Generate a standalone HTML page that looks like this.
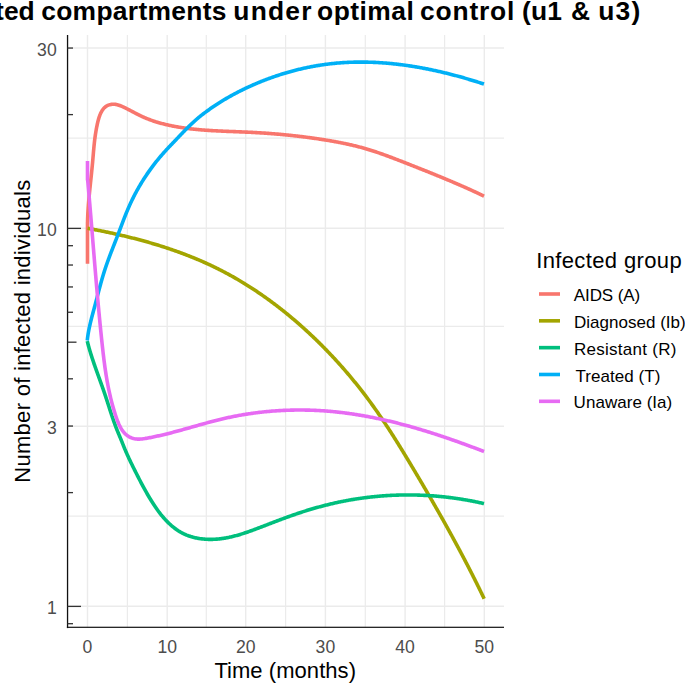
<!DOCTYPE html>
<html><head><meta charset="utf-8"><style>
html,body{margin:0;padding:0;background:#fff;}
body{width:685px;height:683px;overflow:hidden;position:relative;}
svg{position:absolute;left:0;top:0;display:block;}
text{font-family:"Liberation Sans",sans-serif;}
.ax{font-size:17.6px;fill:#4D4D4D;}
.at{font-size:22px;fill:#000;}
.ti{font-size:26.4px;font-weight:bold;fill:#000;}
.lt{font-size:22px;fill:#000;}
.ll{font-size:17px;fill:#000;}
</style></head><body>
<svg width="685" height="683" viewBox="0 0 685 683">
<line x1="127.40" y1="35.0" x2="127.40" y2="627.5" stroke="#EBEBEB" stroke-width="1.2"/>
<line x1="206.30" y1="35.0" x2="206.30" y2="627.5" stroke="#EBEBEB" stroke-width="1.2"/>
<line x1="285.60" y1="35.0" x2="285.60" y2="627.5" stroke="#EBEBEB" stroke-width="1.2"/>
<line x1="365.30" y1="35.0" x2="365.30" y2="627.5" stroke="#EBEBEB" stroke-width="1.2"/>
<line x1="444.60" y1="35.0" x2="444.60" y2="627.5" stroke="#EBEBEB" stroke-width="1.2"/>
<line x1="67.0" y1="516.15" x2="504.0" y2="516.15" stroke="#EBEBEB" stroke-width="1.2"/>
<line x1="67.0" y1="326.30" x2="504.0" y2="326.30" stroke="#EBEBEB" stroke-width="1.2"/>
<line x1="67.0" y1="138.10" x2="504.0" y2="138.10" stroke="#EBEBEB" stroke-width="1.2"/>
<line x1="87.50" y1="35.0" x2="87.50" y2="627.5" stroke="#EBEBEB" stroke-width="1.4"/>
<line x1="167.20" y1="35.0" x2="167.20" y2="627.5" stroke="#EBEBEB" stroke-width="1.4"/>
<line x1="245.70" y1="35.0" x2="245.70" y2="627.5" stroke="#EBEBEB" stroke-width="1.4"/>
<line x1="325.40" y1="35.0" x2="325.40" y2="627.5" stroke="#EBEBEB" stroke-width="1.4"/>
<line x1="405.10" y1="35.0" x2="405.10" y2="627.5" stroke="#EBEBEB" stroke-width="1.4"/>
<line x1="484.30" y1="35.0" x2="484.30" y2="627.5" stroke="#EBEBEB" stroke-width="1.4"/>
<line x1="67.0" y1="606.30" x2="504.0" y2="606.30" stroke="#EBEBEB" stroke-width="1.4"/>
<line x1="67.0" y1="426.20" x2="504.0" y2="426.20" stroke="#EBEBEB" stroke-width="1.4"/>
<line x1="67.0" y1="228.30" x2="504.0" y2="228.30" stroke="#EBEBEB" stroke-width="1.4"/>
<line x1="67.0" y1="48.00" x2="504.0" y2="48.00" stroke="#EBEBEB" stroke-width="1.4"/>
<path d="M87.50 263.70 L87.50 222.00 L87.55 221.93 L87.56 221.09 L87.58 220.25 L87.61 219.41 L87.63 218.57 L87.66 217.73 L87.70 216.89 L87.73 216.05 L87.77 215.20 L87.81 214.36 L87.85 213.51 L87.90 212.66 L87.94 211.81 L87.99 210.97 L88.05 210.12 L88.10 209.26 L88.16 208.41 L88.21 207.56 L88.28 206.71 L88.34 205.85 L88.40 205.00 L88.47 204.14 L88.54 203.28 L88.61 202.43 L88.68 201.57 L88.75 200.71 L88.82 199.86 L88.90 199.00 L88.98 198.14 L89.05 197.28 L89.13 196.42 L89.21 195.56 L89.30 194.70 L89.38 193.84 L89.46 192.98 L89.55 192.12 L89.63 191.26 L89.72 190.40 L89.81 189.54 L89.89 188.68 L89.98 187.82 L90.07 186.96 L90.16 186.10 L90.25 185.24 L90.34 184.38 L90.43 183.52 L90.52 182.66 L90.61 181.80 L90.70 180.94 L90.79 180.08 L90.89 179.23 L90.98 178.37 L91.07 177.51 L91.16 176.66 L91.25 175.80 L91.34 174.95 L91.43 174.09 L91.52 173.24 L91.60 172.39 L91.69 171.54 L91.78 170.68 L91.86 169.83 L91.95 168.99 L92.03 168.14 L92.12 167.29 L92.20 166.44 L92.28 165.60 L92.36 164.76 L92.44 163.91 L92.52 163.07 L92.60 162.23 L92.67 161.39 L92.75 160.55 L92.82 159.72 L92.89 158.88 L92.96 158.04 L93.03 157.21 L93.11 156.38 L93.18 155.54 L93.25 154.71 L93.32 153.88 L93.39 153.04 L93.46 152.21 L93.53 151.38 L93.60 150.55 L93.68 149.71 L93.75 148.88 L93.83 148.04 L93.91 147.21 L93.99 146.37 L94.07 145.54 L94.16 144.70 L94.25 143.86 L94.34 143.02 L94.43 142.18 L94.53 141.33 L94.62 140.49 L94.73 139.64 L94.83 138.80 L94.94 137.95 L95.06 137.09 L95.17 136.24 L95.30 135.38 L95.42 134.52 L95.55 133.66 L95.69 132.80 L95.83 131.93 L95.98 131.06 L96.13 130.19 L96.28 129.31 L96.45 128.43 L96.61 127.55 L96.79 126.66 L96.97 125.77 L97.16 124.88 L97.35 123.98 L97.55 123.08 L97.76 122.18 L97.98 121.29 L98.21 120.39 L98.45 119.50 L98.71 118.62 L98.97 117.75 L99.25 116.88 L99.55 116.03 L99.86 115.20 L100.19 114.38 L100.53 113.58 L100.89 112.81 L101.28 112.05 L101.68 111.32 L102.11 110.61 L102.55 109.94 L103.02 109.29 L103.52 108.67 L104.04 108.09 L104.58 107.55 L105.15 107.04 L105.75 106.57 L106.38 106.15 L107.04 105.76 L107.73 105.42 L108.44 105.13 L109.17 104.87 L109.92 104.66 L110.69 104.50 L111.47 104.37 L112.27 104.29 L113.08 104.25 L113.90 104.26 L114.72 104.31 L115.54 104.40 L116.37 104.53 L117.20 104.71 L118.02 104.92 L118.84 105.17 L119.67 105.45 L120.49 105.76 L121.30 106.09 L122.11 106.43 L122.92 106.80 L123.73 107.18 L124.53 107.56 L125.32 107.95 L126.11 108.35 L126.90 108.75 L127.68 109.14 L128.46 109.54 L129.23 109.94 L130.00 110.35 L130.77 110.75 L131.53 111.15 L132.29 111.55 L133.05 111.95 L133.81 112.35 L134.57 112.74 L135.33 113.14 L136.08 113.53 L136.84 113.92 L137.60 114.31 L138.35 114.69 L139.11 115.07 L139.87 115.44 L140.64 115.81 L141.40 116.18 L142.17 116.54 L142.94 116.89 L143.71 117.23 L144.49 117.57 L145.27 117.91 L146.05 118.24 L146.84 118.56 L147.62 118.87 L148.42 119.18 L149.21 119.49 L150.01 119.79 L150.81 120.08 L151.61 120.37 L152.41 120.65 L153.22 120.93 L154.03 121.20 L154.84 121.46 L155.65 121.73 L156.47 121.98 L157.29 122.23 L158.11 122.48 L158.93 122.72 L159.75 122.95 L160.58 123.18 L161.41 123.41 L162.24 123.63 L163.07 123.85 L163.90 124.06 L164.73 124.27 L165.57 124.47 L166.40 124.67 L167.24 124.87 L168.08 125.06 L168.92 125.24 L169.76 125.43 L170.60 125.60 L171.44 125.78 L172.29 125.95 L173.13 126.11 L173.98 126.28 L174.82 126.44 L175.67 126.59 L176.52 126.74 L177.36 126.89 L178.21 127.04 L179.06 127.18 L179.91 127.32 L180.76 127.45 L181.60 127.58 L182.45 127.71 L183.30 127.84 L184.15 127.96 L185.00 128.08 L185.85 128.20 L186.70 128.31 L187.55 128.42 L188.40 128.53 L189.25 128.63 L190.10 128.74 L190.95 128.84 L191.80 128.93 L192.65 129.03 L193.50 129.12 L194.35 129.21 L195.20 129.30 L196.05 129.39 L196.91 129.47 L197.76 129.55 L198.61 129.63 L199.46 129.70 L200.31 129.78 L201.17 129.85 L202.02 129.92 L202.87 129.99 L203.72 130.06 L204.58 130.12 L205.43 130.18 L206.28 130.25 L207.13 130.31 L207.99 130.36 L208.84 130.42 L209.69 130.48 L210.55 130.53 L211.40 130.58 L212.25 130.63 L213.11 130.68 L213.96 130.73 L214.81 130.78 L215.67 130.82 L216.52 130.87 L217.38 130.91 L218.23 130.95 L219.08 130.99 L219.94 131.03 L220.79 131.07 L221.65 131.11 L222.50 131.15 L223.36 131.19 L224.21 131.23 L225.07 131.26 L225.92 131.30 L226.77 131.33 L227.63 131.37 L228.48 131.40 L229.34 131.43 L230.19 131.47 L231.05 131.50 L231.90 131.53 L232.76 131.57 L233.61 131.60 L234.47 131.63 L235.32 131.67 L236.18 131.70 L237.03 131.73 L237.89 131.76 L238.74 131.80 L239.60 131.83 L240.45 131.87 L241.31 131.90 L242.16 131.93 L243.02 131.97 L243.87 132.00 L244.73 132.04 L245.58 132.08 L246.44 132.11 L247.29 132.15 L248.15 132.19 L249.00 132.23 L249.85 132.27 L250.71 132.31 L251.56 132.35 L252.42 132.40 L253.27 132.44 L254.13 132.49 L254.98 132.53 L255.84 132.58 L256.69 132.63 L257.54 132.68 L258.40 132.73 L259.25 132.78 L260.11 132.83 L260.96 132.88 L261.81 132.94 L262.67 132.99 L263.52 133.05 L264.38 133.11 L265.23 133.16 L266.08 133.22 L266.94 133.28 L267.79 133.35 L268.64 133.41 L269.50 133.47 L270.35 133.54 L271.20 133.60 L272.06 133.67 L272.91 133.73 L273.76 133.80 L274.62 133.87 L275.47 133.94 L276.32 134.01 L277.18 134.09 L278.03 134.16 L278.88 134.24 L279.73 134.31 L280.59 134.39 L281.44 134.47 L282.29 134.55 L283.14 134.63 L283.99 134.71 L284.85 134.79 L285.70 134.87 L286.55 134.96 L287.40 135.04 L288.25 135.13 L289.11 135.22 L289.96 135.30 L290.81 135.39 L291.66 135.48 L292.51 135.58 L293.36 135.67 L294.21 135.76 L295.06 135.86 L295.91 135.95 L296.76 136.05 L297.62 136.15 L298.47 136.25 L299.32 136.35 L300.17 136.45 L301.02 136.55 L301.87 136.66 L302.72 136.76 L303.57 136.87 L304.42 136.98 L305.26 137.08 L306.11 137.19 L306.96 137.30 L307.81 137.42 L308.66 137.53 L309.51 137.64 L310.36 137.76 L311.21 137.87 L312.06 137.99 L312.91 138.11 L313.75 138.23 L314.60 138.35 L315.45 138.47 L316.30 138.59 L317.15 138.72 L317.99 138.84 L318.84 138.97 L319.69 139.10 L320.53 139.23 L321.38 139.36 L322.23 139.49 L323.08 139.62 L323.92 139.75 L324.77 139.89 L325.61 140.02 L326.46 140.16 L327.31 140.30 L328.15 140.44 L329.00 140.58 L329.84 140.72 L330.69 140.87 L331.53 141.02 L332.37 141.16 L333.22 141.31 L334.06 141.46 L334.90 141.62 L335.75 141.77 L336.59 141.93 L337.43 142.09 L338.27 142.25 L339.11 142.41 L339.95 142.57 L340.79 142.74 L341.63 142.90 L342.47 143.07 L343.31 143.24 L344.15 143.42 L344.99 143.59 L345.83 143.77 L346.66 143.95 L347.50 144.13 L348.33 144.31 L349.17 144.50 L350.00 144.69 L350.84 144.88 L351.67 145.07 L352.50 145.27 L353.34 145.46 L354.17 145.66 L355.00 145.87 L355.83 146.07 L356.66 146.28 L357.49 146.49 L358.31 146.70 L359.14 146.91 L359.97 147.13 L360.79 147.35 L361.62 147.57 L362.44 147.80 L363.27 148.03 L364.09 148.26 L364.91 148.49 L365.73 148.73 L366.55 148.97 L367.37 149.21 L368.19 149.46 L369.01 149.70 L369.82 149.96 L370.64 150.21 L371.45 150.46 L372.27 150.72 L373.08 150.98 L373.90 151.25 L374.71 151.51 L375.52 151.78 L376.33 152.05 L377.14 152.33 L377.95 152.60 L378.76 152.88 L379.57 153.16 L380.38 153.44 L381.18 153.72 L381.99 154.00 L382.80 154.29 L383.60 154.58 L384.41 154.87 L385.21 155.16 L386.02 155.45 L386.82 155.75 L387.62 156.04 L388.42 156.34 L389.23 156.64 L390.03 156.94 L390.83 157.24 L391.63 157.54 L392.43 157.85 L393.23 158.15 L394.03 158.46 L394.83 158.76 L395.63 159.07 L396.43 159.38 L397.23 159.69 L398.03 160.00 L398.83 160.31 L399.63 160.62 L400.43 160.93 L401.22 161.24 L402.02 161.55 L402.82 161.86 L403.62 162.18 L404.41 162.49 L405.21 162.80 L406.01 163.11 L406.81 163.43 L407.60 163.74 L408.40 164.05 L409.20 164.37 L409.99 164.68 L410.79 164.99 L411.59 165.31 L412.39 165.62 L413.18 165.94 L413.98 166.25 L414.78 166.56 L415.57 166.88 L416.37 167.19 L417.16 167.51 L417.96 167.82 L418.76 168.14 L419.55 168.45 L420.35 168.77 L421.14 169.08 L421.94 169.40 L422.73 169.72 L423.53 170.03 L424.32 170.35 L425.12 170.67 L425.91 170.99 L426.71 171.30 L427.50 171.62 L428.30 171.94 L429.09 172.26 L429.88 172.58 L430.68 172.90 L431.47 173.22 L432.27 173.54 L433.06 173.86 L433.85 174.18 L434.64 174.50 L435.44 174.83 L436.23 175.15 L437.02 175.47 L437.81 175.80 L438.61 176.12 L439.40 176.44 L440.19 176.77 L440.98 177.10 L441.77 177.42 L442.56 177.75 L443.35 178.08 L444.14 178.40 L444.93 178.73 L445.72 179.06 L446.51 179.39 L447.30 179.72 L448.09 180.05 L448.88 180.38 L449.67 180.72 L450.46 181.05 L451.24 181.38 L452.03 181.72 L452.82 182.05 L453.61 182.39 L454.39 182.72 L455.18 183.06 L455.97 183.40 L456.75 183.74 L457.54 184.08 L458.32 184.42 L459.11 184.76 L459.89 185.10 L460.68 185.44 L461.46 185.79 L462.24 186.13 L463.03 186.47 L463.81 186.82 L464.59 187.17 L465.38 187.51 L466.16 187.86 L466.94 188.21 L467.72 188.56 L468.50 188.91 L469.28 189.26 L470.06 189.62 L470.84 189.97 L471.62 190.33 L472.40 190.68 L473.18 191.04 L473.96 191.40 L474.74 191.75 L475.52 192.11 L476.29 192.47 L477.07 192.84 L477.85 193.20 L478.62 193.56 L479.40 193.93 L480.17 194.29 L480.95 194.66 L481.72 195.03 L482.50 195.40 L483.27 195.77 L484.04 196.14" fill="none" stroke="#F8766D" stroke-width="3.6" stroke-linejoin="round" stroke-linecap="butt"/>
<path d="M87.59 228.28 L88.52 228.45 L89.44 228.62 L90.36 228.79 L91.29 228.97 L92.21 229.14 L93.14 229.32 L94.06 229.50 L94.99 229.68 L95.91 229.86 L96.84 230.04 L97.76 230.22 L98.69 230.41 L99.62 230.59 L100.54 230.78 L101.47 230.97 L102.39 231.16 L103.32 231.35 L104.24 231.54 L105.17 231.73 L106.10 231.92 L107.02 232.12 L107.95 232.31 L108.87 232.51 L109.80 232.71 L110.73 232.91 L111.65 233.11 L112.58 233.31 L113.50 233.52 L114.43 233.72 L115.35 233.93 L116.28 234.14 L117.21 234.35 L118.13 234.56 L119.06 234.77 L119.98 234.98 L120.91 235.20 L121.83 235.42 L122.75 235.63 L123.68 235.85 L124.60 236.07 L125.53 236.30 L126.45 236.52 L127.37 236.74 L128.30 236.97 L129.22 237.20 L130.14 237.43 L131.07 237.66 L131.99 237.89 L132.91 238.13 L133.83 238.36 L134.75 238.60 L135.67 238.84 L136.60 239.08 L137.52 239.32 L138.44 239.56 L139.36 239.81 L140.28 240.06 L141.19 240.30 L142.11 240.55 L143.03 240.80 L143.95 241.06 L144.87 241.31 L145.78 241.57 L146.70 241.83 L147.62 242.09 L148.53 242.35 L149.45 242.61 L150.36 242.88 L151.28 243.14 L152.19 243.41 L153.10 243.68 L154.02 243.95 L154.93 244.23 L155.84 244.50 L156.75 244.78 L157.66 245.06 L158.57 245.34 L159.48 245.62 L160.39 245.90 L161.30 246.19 L162.21 246.48 L163.11 246.77 L164.02 247.06 L164.93 247.35 L165.83 247.65 L166.73 247.94 L167.64 248.24 L168.54 248.54 L169.44 248.85 L170.35 249.15 L171.25 249.46 L172.15 249.77 L173.05 250.08 L173.95 250.39 L174.84 250.70 L175.74 251.02 L176.64 251.34 L177.53 251.66 L178.43 251.98 L179.32 252.31 L180.22 252.63 L181.11 252.96 L182.00 253.29 L182.89 253.62 L183.78 253.96 L184.67 254.29 L185.56 254.63 L186.45 254.97 L187.33 255.32 L188.22 255.66 L189.10 256.01 L189.99 256.36 L190.87 256.71 L191.75 257.06 L192.63 257.42 L193.51 257.77 L194.39 258.13 L195.27 258.49 L196.15 258.86 L197.02 259.23 L197.90 259.59 L198.77 259.96 L199.65 260.34 L200.52 260.71 L201.39 261.09 L202.26 261.47 L203.13 261.85 L204.00 262.24 L204.86 262.62 L205.73 263.01 L206.59 263.40 L207.46 263.79 L208.32 264.19 L209.18 264.59 L210.04 264.99 L210.90 265.39 L211.76 265.80 L212.61 266.20 L213.47 266.61 L214.32 267.03 L215.17 267.44 L216.02 267.86 L216.87 268.28 L217.72 268.70 L218.57 269.12 L219.42 269.55 L220.26 269.98 L221.11 270.41 L221.95 270.84 L222.79 271.28 L223.63 271.72 L224.47 272.16 L225.31 272.60 L226.14 273.05 L226.98 273.49 L227.81 273.94 L228.65 274.39 L229.48 274.85 L230.31 275.31 L231.14 275.77 L231.97 276.23 L232.79 276.69 L233.62 277.16 L234.44 277.62 L235.26 278.10 L236.08 278.57 L236.90 279.04 L237.72 279.52 L238.54 280.00 L239.36 280.48 L240.17 280.96 L240.99 281.45 L241.80 281.94 L242.61 282.43 L243.42 282.92 L244.23 283.41 L245.04 283.91 L245.84 284.41 L246.65 284.91 L247.45 285.41 L248.25 285.92 L249.05 286.43 L249.85 286.94 L250.65 287.45 L251.45 287.96 L252.25 288.48 L253.04 288.99 L253.83 289.51 L254.63 290.03 L255.42 290.56 L256.21 291.08 L256.99 291.61 L257.78 292.14 L258.57 292.67 L259.35 293.21 L260.14 293.74 L260.92 294.28 L261.70 294.82 L262.48 295.36 L263.25 295.90 L264.03 296.45 L264.81 297.00 L265.58 297.54 L266.35 298.10 L267.13 298.65 L267.90 299.20 L268.66 299.76 L269.43 300.32 L270.20 300.88 L270.96 301.44 L271.73 302.00 L272.49 302.57 L273.25 303.14 L274.01 303.71 L274.77 304.28 L275.53 304.85 L276.28 305.43 L277.04 306.00 L277.79 306.58 L278.54 307.16 L279.29 307.75 L280.04 308.33 L280.79 308.92 L281.54 309.50 L282.29 310.09 L283.03 310.68 L283.77 311.27 L284.51 311.87 L285.25 312.46 L285.99 313.06 L286.73 313.66 L287.47 314.26 L288.20 314.87 L288.94 315.47 L289.67 316.08 L290.40 316.68 L291.13 317.29 L291.86 317.90 L292.59 318.51 L293.31 319.13 L294.04 319.74 L294.76 320.36 L295.48 320.98 L296.20 321.60 L296.92 322.22 L297.64 322.85 L298.36 323.47 L299.07 324.10 L299.79 324.72 L300.50 325.35 L301.21 325.99 L301.92 326.62 L302.63 327.25 L303.34 327.89 L304.04 328.52 L304.75 329.16 L305.45 329.80 L306.15 330.44 L306.86 331.09 L307.56 331.73 L308.25 332.38 L308.95 333.02 L309.65 333.67 L310.34 334.32 L311.03 334.97 L311.72 335.62 L312.41 336.28 L313.10 336.93 L313.79 337.59 L314.48 338.25 L315.16 338.91 L315.85 339.57 L316.53 340.23 L317.21 340.89 L317.89 341.56 L318.57 342.22 L319.24 342.89 L319.92 343.56 L320.59 344.23 L321.27 344.90 L321.94 345.57 L322.61 346.25 L323.28 346.92 L323.94 347.60 L324.61 348.28 L325.27 348.95 L325.94 349.63 L326.60 350.32 L327.26 351.00 L327.92 351.68 L328.58 352.37 L329.23 353.05 L329.89 353.74 L330.54 354.43 L331.20 355.12 L331.85 355.81 L332.50 356.51 L333.14 357.20 L333.79 357.89 L334.44 358.59 L335.08 359.29 L335.72 359.99 L336.36 360.69 L337.00 361.39 L337.64 362.09 L338.28 362.80 L338.92 363.50 L339.55 364.21 L340.18 364.92 L340.82 365.62 L341.45 366.33 L342.07 367.04 L342.70 367.76 L343.33 368.47 L343.95 369.19 L344.58 369.90 L345.20 370.62 L345.82 371.34 L346.44 372.06 L347.05 372.78 L347.67 373.50 L348.28 374.22 L348.90 374.95 L349.51 375.67 L350.12 376.40 L350.73 377.13 L351.34 377.85 L351.94 378.59 L352.55 379.32 L353.15 380.05 L353.75 380.78 L354.35 381.52 L354.95 382.25 L355.55 382.99 L356.15 383.73 L356.74 384.47 L357.33 385.21 L357.93 385.95 L358.52 386.69 L359.11 387.44 L359.69 388.18 L360.28 388.93 L360.86 389.67 L361.45 390.42 L362.03 391.17 L362.61 391.92 L363.19 392.67 L363.76 393.43 L364.34 394.18 L364.91 394.93 L365.49 395.69 L366.06 396.45 L366.63 397.21 L367.20 397.96 L367.76 398.72 L368.33 399.49 L368.89 400.25 L369.46 401.01 L370.02 401.78 L370.58 402.54 L371.14 403.31 L371.69 404.08 L372.25 404.85 L372.80 405.62 L373.35 406.39 L373.91 407.16 L374.46 407.93 L375.00 408.71 L375.55 409.48 L376.10 410.26 L376.64 411.03 L377.18 411.81 L377.72 412.59 L378.27 413.37 L378.80 414.15 L379.34 414.93 L379.88 415.71 L380.41 416.50 L380.95 417.28 L381.48 418.06 L382.01 418.85 L382.54 419.64 L383.07 420.42 L383.60 421.21 L384.13 422.00 L384.65 422.79 L385.18 423.58 L385.70 424.37 L386.22 425.17 L386.75 425.96 L387.27 426.75 L387.79 427.55 L388.31 428.34 L388.82 429.14 L389.34 429.93 L389.85 430.73 L390.37 431.53 L390.88 432.33 L391.40 433.12 L391.91 433.92 L392.42 434.72 L392.93 435.53 L393.44 436.33 L393.95 437.13 L394.45 437.93 L394.96 438.73 L395.47 439.54 L395.97 440.34 L396.48 441.15 L396.98 441.95 L397.48 442.76 L397.99 443.56 L398.49 444.37 L398.99 445.18 L399.49 445.99 L399.99 446.79 L400.49 447.60 L400.98 448.41 L401.48 449.22 L401.98 450.03 L402.47 450.84 L402.97 451.65 L403.46 452.46 L403.96 453.27 L404.45 454.09 L404.95 454.90 L405.44 455.71 L405.93 456.52 L406.42 457.34 L406.92 458.15 L407.41 458.96 L407.90 459.78 L408.39 460.59 L408.88 461.41 L409.37 462.22 L409.86 463.04 L410.34 463.85 L410.83 464.67 L411.32 465.48 L411.81 466.30 L412.29 467.11 L412.78 467.93 L413.27 468.74 L413.76 469.56 L414.24 470.38 L414.73 471.19 L415.21 472.01 L415.70 472.83 L416.18 473.64 L416.67 474.46 L417.15 475.28 L417.64 476.10 L418.12 476.91 L418.61 477.73 L419.09 478.55 L419.57 479.37 L420.06 480.18 L420.54 481.00 L421.02 481.82 L421.50 482.64 L421.98 483.46 L422.47 484.28 L422.95 485.10 L423.43 485.92 L423.91 486.73 L424.39 487.55 L424.87 488.37 L425.35 489.19 L425.83 490.01 L426.31 490.83 L426.78 491.65 L427.26 492.47 L427.74 493.30 L428.22 494.12 L428.70 494.94 L429.17 495.76 L429.65 496.58 L430.13 497.40 L430.60 498.22 L431.08 499.05 L431.55 499.87 L432.03 500.69 L432.50 501.51 L432.98 502.34 L433.45 503.16 L433.92 503.98 L434.40 504.81 L434.87 505.63 L435.34 506.45 L435.81 507.28 L436.28 508.10 L436.75 508.93 L437.22 509.75 L437.69 510.58 L438.16 511.40 L438.63 512.23 L439.10 513.05 L439.57 513.88 L440.04 514.70 L440.51 515.53 L440.97 516.36 L441.44 517.18 L441.91 518.01 L442.37 518.84 L442.84 519.66 L443.30 520.49 L443.77 521.32 L444.23 522.15 L444.70 522.98 L445.16 523.81 L445.62 524.63 L446.08 525.46 L446.55 526.29 L447.01 527.12 L447.47 527.95 L447.93 528.78 L448.39 529.61 L448.85 530.44 L449.31 531.27 L449.77 532.11 L450.22 532.94 L450.68 533.77 L451.14 534.60 L451.60 535.43 L452.05 536.27 L452.51 537.10 L452.96 537.93 L453.42 538.77 L453.87 539.60 L454.32 540.43 L454.78 541.27 L455.23 542.10 L455.68 542.94 L456.13 543.77 L456.58 544.61 L457.03 545.44 L457.48 546.28 L457.93 547.12 L458.38 547.95 L458.83 548.79 L459.28 549.63 L459.73 550.46 L460.17 551.30 L460.62 552.14 L461.06 552.98 L461.51 553.82 L461.95 554.66 L462.40 555.50 L462.84 556.34 L463.28 557.18 L463.72 558.02 L464.17 558.86 L464.61 559.70 L465.05 560.54 L465.49 561.38 L465.92 562.22 L466.36 563.07 L466.80 563.91 L467.24 564.75 L467.68 565.60 L468.11 566.44 L468.55 567.28 L468.98 568.13 L469.42 568.97 L469.85 569.82 L470.28 570.66 L470.71 571.51 L471.15 572.35 L471.58 573.20 L472.01 574.05 L472.44 574.90 L472.87 575.74 L473.29 576.59 L473.72 577.44 L474.15 578.29 L474.58 579.14 L475.00 579.99 L475.43 580.84 L475.85 581.69 L476.27 582.54 L476.70 583.39 L477.12 584.24 L477.54 585.09 L477.96 585.94 L478.38 586.80 L478.80 587.65 L479.22 588.50 L479.64 589.36 L480.06 590.21 L480.47 591.06 L480.89 591.92 L481.31 592.77 L481.72 593.63 L482.13 594.49 L482.55 595.34 L482.96 596.20 L483.37 597.06 L483.78 597.91 L484.19 598.77" fill="none" stroke="#A3A500" stroke-width="3.6" stroke-linejoin="round" stroke-linecap="butt"/>
<path d="M87.25 341.06 L87.46 341.91 L87.68 342.77 L87.89 343.62 L88.12 344.47 L88.34 345.32 L88.57 346.17 L88.81 347.01 L89.04 347.86 L89.28 348.70 L89.53 349.55 L89.77 350.39 L90.02 351.23 L90.28 352.08 L90.53 352.92 L90.79 353.76 L91.05 354.60 L91.32 355.43 L91.58 356.27 L91.85 357.11 L92.12 357.95 L92.40 358.78 L92.67 359.62 L92.95 360.45 L93.23 361.29 L93.51 362.12 L93.79 362.95 L94.08 363.79 L94.37 364.62 L94.65 365.45 L94.94 366.28 L95.23 367.11 L95.53 367.95 L95.82 368.78 L96.11 369.61 L96.41 370.44 L96.70 371.27 L97.00 372.10 L97.30 372.93 L97.60 373.76 L97.90 374.58 L98.20 375.41 L98.49 376.24 L98.79 377.07 L99.09 377.90 L99.39 378.73 L99.69 379.56 L99.99 380.39 L100.29 381.22 L100.59 382.05 L100.89 382.88 L101.19 383.71 L101.48 384.54 L101.78 385.37 L102.08 386.20 L102.37 387.03 L102.66 387.86 L102.96 388.69 L103.25 389.52 L103.54 390.36 L103.83 391.19 L104.11 392.02 L104.40 392.85 L104.68 393.69 L104.97 394.52 L105.25 395.36 L105.53 396.19 L105.80 397.03 L106.08 397.87 L106.35 398.70 L106.63 399.54 L106.90 400.38 L107.17 401.22 L107.44 402.05 L107.71 402.89 L107.98 403.73 L108.25 404.57 L108.52 405.41 L108.79 406.24 L109.05 407.08 L109.32 407.92 L109.59 408.76 L109.86 409.59 L110.13 410.43 L110.40 411.27 L110.68 412.10 L110.95 412.94 L111.22 413.78 L111.50 414.61 L111.78 415.44 L112.05 416.28 L112.34 417.11 L112.62 417.94 L112.90 418.77 L113.19 419.60 L113.48 420.43 L113.77 421.26 L114.06 422.09 L114.36 422.92 L114.66 423.74 L114.96 424.56 L115.27 425.39 L115.57 426.21 L115.89 427.03 L116.20 427.85 L116.52 428.67 L116.84 429.48 L117.17 430.30 L117.50 431.11 L117.83 431.93 L118.17 432.74 L118.50 433.55 L118.84 434.36 L119.18 435.17 L119.51 435.98 L119.85 436.79 L120.19 437.60 L120.53 438.41 L120.86 439.22 L121.20 440.04 L121.53 440.85 L121.86 441.66 L122.19 442.48 L122.51 443.29 L122.84 444.11 L123.16 444.92 L123.49 445.74 L123.81 446.55 L124.14 447.37 L124.48 448.18 L124.81 449.00 L125.16 449.81 L125.50 450.62 L125.85 451.44 L126.20 452.25 L126.55 453.06 L126.91 453.87 L127.27 454.68 L127.63 455.48 L128.00 456.29 L128.37 457.10 L128.74 457.90 L129.11 458.70 L129.49 459.51 L129.87 460.31 L130.25 461.11 L130.63 461.91 L131.01 462.71 L131.40 463.51 L131.79 464.30 L132.17 465.10 L132.56 465.89 L132.96 466.69 L133.35 467.48 L133.74 468.27 L134.14 469.06 L134.53 469.85 L134.93 470.64 L135.32 471.42 L135.72 472.21 L136.12 472.99 L136.51 473.77 L136.91 474.55 L137.31 475.33 L137.70 476.11 L138.10 476.89 L138.50 477.66 L138.89 478.44 L139.29 479.21 L139.69 479.98 L140.09 480.76 L140.49 481.53 L140.89 482.29 L141.30 483.06 L141.70 483.83 L142.11 484.60 L142.51 485.36 L142.92 486.13 L143.33 486.89 L143.74 487.65 L144.16 488.42 L144.58 489.18 L145.00 489.94 L145.42 490.70 L145.84 491.46 L146.27 492.22 L146.70 492.98 L147.14 493.74 L147.57 494.50 L148.01 495.26 L148.46 496.01 L148.90 496.77 L149.35 497.53 L149.81 498.29 L150.27 499.04 L150.73 499.80 L151.20 500.56 L151.67 501.31 L152.15 502.07 L152.63 502.82 L153.11 503.58 L153.60 504.33 L154.09 505.08 L154.59 505.82 L155.10 506.57 L155.60 507.31 L156.12 508.05 L156.63 508.79 L157.15 509.52 L157.68 510.25 L158.21 510.97 L158.75 511.70 L159.29 512.41 L159.84 513.13 L160.39 513.83 L160.95 514.54 L161.52 515.23 L162.08 515.93 L162.66 516.61 L163.24 517.29 L163.82 517.97 L164.42 518.64 L165.01 519.30 L165.62 519.95 L166.22 520.60 L166.84 521.24 L167.46 521.87 L168.08 522.49 L168.72 523.11 L169.36 523.71 L170.00 524.31 L170.65 524.90 L171.31 525.48 L171.97 526.05 L172.64 526.61 L173.32 527.16 L174.00 527.70 L174.69 528.23 L175.39 528.75 L176.09 529.26 L176.80 529.76 L177.52 530.24 L178.24 530.72 L178.97 531.18 L179.71 531.63 L180.45 532.07 L181.20 532.49 L181.96 532.91 L182.73 533.30 L183.50 533.69 L184.28 534.06 L185.07 534.42 L185.86 534.77 L186.66 535.10 L187.47 535.41 L188.28 535.72 L189.10 536.01 L189.93 536.29 L190.76 536.56 L191.60 536.81 L192.44 537.05 L193.29 537.28 L194.14 537.49 L194.99 537.69 L195.85 537.89 L196.71 538.06 L197.58 538.23 L198.45 538.39 L199.32 538.53 L200.20 538.66 L201.08 538.78 L201.96 538.89 L202.84 538.99 L203.72 539.07 L204.61 539.15 L205.49 539.21 L206.38 539.26 L207.27 539.31 L208.16 539.34 L209.05 539.36 L209.94 539.37 L210.83 539.37 L211.72 539.37 L212.60 539.35 L213.49 539.32 L214.38 539.28 L215.26 539.23 L216.14 539.17 L217.02 539.11 L217.90 539.03 L218.78 538.95 L219.66 538.85 L220.53 538.75 L221.40 538.64 L222.27 538.52 L223.14 538.39 L224.01 538.26 L224.88 538.11 L225.74 537.96 L226.61 537.80 L227.47 537.64 L228.33 537.46 L229.19 537.29 L230.05 537.10 L230.91 536.91 L231.77 536.71 L232.62 536.50 L233.47 536.29 L234.33 536.07 L235.18 535.85 L236.03 535.62 L236.88 535.39 L237.73 535.15 L238.57 534.90 L239.42 534.65 L240.26 534.40 L241.11 534.14 L241.95 533.88 L242.79 533.61 L243.63 533.34 L244.47 533.07 L245.31 532.79 L246.15 532.50 L246.99 532.22 L247.83 531.93 L248.66 531.64 L249.50 531.35 L250.33 531.05 L251.16 530.75 L252.00 530.45 L252.83 530.14 L253.66 529.84 L254.49 529.53 L255.32 529.22 L256.15 528.91 L256.98 528.60 L257.81 528.29 L258.63 527.97 L259.46 527.66 L260.29 527.35 L261.11 527.03 L261.94 526.72 L262.77 526.40 L263.59 526.08 L264.42 525.77 L265.24 525.45 L266.06 525.13 L266.89 524.82 L267.71 524.50 L268.53 524.19 L269.36 523.87 L270.18 523.55 L271.00 523.24 L271.82 522.92 L272.65 522.61 L273.47 522.29 L274.29 521.98 L275.11 521.67 L275.94 521.35 L276.76 521.04 L277.58 520.73 L278.40 520.42 L279.23 520.11 L280.05 519.80 L280.87 519.49 L281.70 519.18 L282.52 518.88 L283.34 518.57 L284.17 518.26 L284.99 517.96 L285.82 517.66 L286.64 517.36 L287.47 517.06 L288.29 516.76 L289.12 516.46 L289.95 516.16 L290.77 515.87 L291.60 515.57 L292.43 515.28 L293.26 514.99 L294.09 514.70 L294.92 514.42 L295.75 514.13 L296.59 513.85 L297.42 513.56 L298.25 513.28 L299.09 513.01 L299.92 512.73 L300.76 512.45 L301.59 512.18 L302.43 511.91 L303.27 511.64 L304.10 511.37 L304.94 511.11 L305.78 510.84 L306.62 510.58 L307.46 510.32 L308.30 510.06 L309.15 509.80 L309.99 509.55 L310.83 509.30 L311.68 509.05 L312.52 508.80 L313.37 508.55 L314.21 508.31 L315.06 508.06 L315.90 507.82 L316.75 507.58 L317.60 507.35 L318.45 507.11 L319.30 506.88 L320.15 506.65 L321.00 506.42 L321.85 506.19 L322.70 505.97 L323.55 505.75 L324.41 505.52 L325.26 505.31 L326.11 505.09 L326.97 504.88 L327.82 504.66 L328.68 504.45 L329.53 504.25 L330.39 504.04 L331.25 503.84 L332.10 503.64 L332.96 503.44 L333.82 503.24 L334.68 503.05 L335.54 502.86 L336.40 502.67 L337.26 502.48 L338.12 502.29 L338.98 502.11 L339.84 501.93 L340.71 501.75 L341.57 501.58 L342.43 501.40 L343.30 501.23 L344.16 501.06 L345.03 500.90 L345.89 500.73 L346.76 500.57 L347.62 500.41 L348.49 500.25 L349.36 500.10 L350.22 499.95 L351.09 499.79 L351.96 499.65 L352.83 499.50 L353.70 499.36 L354.57 499.22 L355.44 499.08 L356.31 498.94 L357.18 498.81 L358.05 498.67 L358.92 498.54 L359.79 498.42 L360.66 498.29 L361.53 498.17 L362.41 498.05 L363.28 497.93 L364.15 497.81 L365.03 497.70 L365.90 497.59 L366.77 497.48 L367.65 497.37 L368.52 497.27 L369.40 497.17 L370.27 497.07 L371.15 496.97 L372.02 496.88 L372.90 496.78 L373.78 496.69 L374.65 496.60 L375.53 496.52 L376.41 496.44 L377.28 496.35 L378.16 496.27 L379.04 496.20 L379.92 496.12 L380.79 496.05 L381.67 495.98 L382.55 495.91 L383.43 495.85 L384.31 495.79 L385.19 495.73 L386.07 495.67 L386.94 495.61 L387.82 495.56 L388.70 495.51 L389.58 495.46 L390.46 495.41 L391.34 495.37 L392.22 495.32 L393.10 495.28 L393.98 495.25 L394.86 495.21 L395.74 495.18 L396.62 495.15 L397.50 495.12 L398.38 495.09 L399.26 495.07 L400.15 495.05 L401.03 495.03 L401.91 495.01 L402.79 495.00 L403.67 494.98 L404.55 494.97 L405.43 494.97 L406.31 494.96 L407.19 494.96 L408.07 494.96 L408.95 494.96 L409.84 494.96 L410.72 494.97 L411.60 494.98 L412.48 494.99 L413.36 495.00 L414.24 495.01 L415.12 495.03 L416.00 495.05 L416.88 495.07 L417.76 495.10 L418.64 495.12 L419.52 495.15 L420.40 495.18 L421.28 495.22 L422.16 495.25 L423.04 495.29 L423.92 495.33 L424.80 495.37 L425.68 495.42 L426.56 495.47 L427.44 495.51 L428.32 495.57 L429.20 495.62 L430.08 495.68 L430.96 495.74 L431.84 495.80 L432.72 495.86 L433.60 495.92 L434.48 495.99 L435.35 496.06 L436.23 496.13 L437.11 496.21 L437.99 496.29 L438.86 496.36 L439.74 496.45 L440.62 496.53 L441.49 496.62 L442.37 496.70 L443.25 496.79 L444.12 496.89 L445.00 496.98 L445.87 497.08 L446.75 497.18 L447.62 497.28 L448.50 497.38 L449.37 497.49 L450.25 497.60 L451.12 497.71 L451.99 497.82 L452.87 497.94 L453.74 498.06 L454.61 498.18 L455.48 498.30 L456.36 498.42 L457.23 498.55 L458.10 498.68 L458.97 498.81 L459.84 498.95 L460.71 499.08 L461.58 499.22 L462.45 499.36 L463.32 499.50 L464.19 499.65 L465.06 499.80 L465.92 499.95 L466.79 500.10 L467.66 500.25 L468.52 500.41 L469.39 500.57 L470.26 500.73 L471.12 500.89 L471.99 501.06 L472.85 501.22 L473.71 501.39 L474.58 501.57 L475.44 501.74 L476.30 501.92 L477.17 502.10 L478.03 502.28 L478.89 502.46 L479.75 502.65 L480.61 502.84 L481.47 503.03 L482.33 503.22 L483.19 503.41 L484.04 503.61" fill="none" stroke="#00BF7D" stroke-width="3.6" stroke-linejoin="round" stroke-linecap="butt"/>
<path d="M87.27 340.46 L87.37 339.55 L87.47 338.63 L87.58 337.71 L87.71 336.80 L87.83 335.89 L87.97 334.97 L88.11 334.06 L88.26 333.15 L88.42 332.24 L88.58 331.34 L88.75 330.43 L88.93 329.52 L89.11 328.62 L89.30 327.71 L89.49 326.81 L89.69 325.90 L89.89 325.00 L90.10 324.10 L90.31 323.20 L90.52 322.30 L90.74 321.40 L90.96 320.50 L91.19 319.60 L91.41 318.70 L91.64 317.81 L91.88 316.91 L92.11 316.01 L92.35 315.11 L92.59 314.22 L92.83 313.32 L93.07 312.42 L93.31 311.53 L93.55 310.63 L93.80 309.74 L94.04 308.84 L94.28 307.94 L94.52 307.05 L94.77 306.15 L95.01 305.26 L95.25 304.36 L95.49 303.46 L95.72 302.57 L95.96 301.67 L96.20 300.77 L96.43 299.88 L96.67 298.98 L96.90 298.08 L97.14 297.19 L97.37 296.29 L97.60 295.39 L97.84 294.50 L98.07 293.60 L98.30 292.71 L98.54 291.81 L98.77 290.92 L99.01 290.02 L99.24 289.13 L99.48 288.23 L99.72 287.34 L99.96 286.45 L100.20 285.55 L100.44 284.66 L100.69 283.77 L100.93 282.88 L101.18 281.99 L101.43 281.10 L101.68 280.21 L101.93 279.32 L102.18 278.44 L102.44 277.55 L102.70 276.66 L102.97 275.78 L103.23 274.90 L103.50 274.01 L103.77 273.13 L104.05 272.25 L104.32 271.37 L104.60 270.49 L104.89 269.61 L105.18 268.74 L105.47 267.86 L105.76 266.99 L106.06 266.11 L106.36 265.24 L106.66 264.37 L106.97 263.50 L107.28 262.63 L107.59 261.76 L107.90 260.89 L108.22 260.02 L108.53 259.16 L108.85 258.29 L109.18 257.42 L109.50 256.56 L109.82 255.69 L110.15 254.83 L110.48 253.96 L110.81 253.10 L111.14 252.23 L111.47 251.37 L111.80 250.51 L112.14 249.64 L112.47 248.78 L112.81 247.92 L113.14 247.05 L113.48 246.19 L113.82 245.33 L114.16 244.47 L114.49 243.60 L114.83 242.74 L115.17 241.88 L115.51 241.01 L115.84 240.15 L116.18 239.29 L116.52 238.42 L116.85 237.56 L117.19 236.69 L117.52 235.83 L117.86 234.96 L118.19 234.09 L118.52 233.23 L118.85 232.36 L119.18 231.49 L119.51 230.62 L119.84 229.75 L120.17 228.89 L120.49 228.02 L120.82 227.15 L121.15 226.28 L121.48 225.41 L121.81 224.54 L122.14 223.67 L122.47 222.81 L122.80 221.94 L123.13 221.07 L123.46 220.20 L123.80 219.34 L124.13 218.47 L124.47 217.61 L124.81 216.74 L125.15 215.88 L125.50 215.02 L125.84 214.16 L126.19 213.30 L126.54 212.44 L126.89 211.58 L127.25 210.73 L127.61 209.87 L127.97 209.02 L128.34 208.17 L128.71 207.32 L129.08 206.47 L129.46 205.62 L129.84 204.78 L130.22 203.93 L130.61 203.09 L131.00 202.25 L131.40 201.42 L131.80 200.58 L132.20 199.75 L132.61 198.91 L133.02 198.08 L133.43 197.26 L133.85 196.43 L134.28 195.61 L134.70 194.78 L135.13 193.96 L135.56 193.14 L136.00 192.33 L136.44 191.51 L136.89 190.70 L137.33 189.89 L137.78 189.08 L138.24 188.28 L138.70 187.47 L139.16 186.67 L139.63 185.87 L140.10 185.07 L140.57 184.28 L141.05 183.49 L141.53 182.69 L142.01 181.91 L142.50 181.12 L142.99 180.33 L143.48 179.55 L143.98 178.77 L144.48 177.99 L144.99 177.22 L145.50 176.44 L146.01 175.67 L146.52 174.90 L147.04 174.14 L147.56 173.37 L148.09 172.61 L148.62 171.85 L149.15 171.10 L149.69 170.34 L150.23 169.59 L150.77 168.84 L151.32 168.09 L151.86 167.35 L152.42 166.60 L152.97 165.86 L153.53 165.13 L154.10 164.39 L154.66 163.66 L155.23 162.93 L155.80 162.20 L156.38 161.48 L156.96 160.75 L157.54 160.03 L158.13 159.32 L158.71 158.60 L159.31 157.89 L159.90 157.18 L160.50 156.48 L161.10 155.77 L161.71 155.07 L162.31 154.37 L162.93 153.68 L163.54 152.98 L164.16 152.29 L164.78 151.60 L165.40 150.92 L166.03 150.24 L166.65 149.56 L167.29 148.88 L167.92 148.20 L168.55 147.52 L169.19 146.85 L169.83 146.18 L170.47 145.51 L171.11 144.83 L171.75 144.16 L172.39 143.49 L173.03 142.82 L173.68 142.15 L174.32 141.48 L174.96 140.81 L175.60 140.14 L176.25 139.47 L176.89 138.80 L177.53 138.13 L178.17 137.45 L178.81 136.78 L179.45 136.11 L180.09 135.43 L180.73 134.76 L181.38 134.09 L182.02 133.42 L182.66 132.75 L183.31 132.08 L183.95 131.41 L184.60 130.75 L185.25 130.08 L185.90 129.42 L186.55 128.76 L187.21 128.11 L187.86 127.45 L188.52 126.80 L189.18 126.15 L189.84 125.51 L190.51 124.87 L191.18 124.23 L191.85 123.59 L192.52 122.96 L193.20 122.33 L193.88 121.71 L194.56 121.09 L195.25 120.48 L195.94 119.87 L196.63 119.26 L197.33 118.66 L198.03 118.07 L198.74 117.48 L199.45 116.89 L200.17 116.31 L200.88 115.73 L201.61 115.16 L202.33 114.60 L203.06 114.03 L203.79 113.48 L204.53 112.92 L205.27 112.37 L206.01 111.82 L206.75 111.27 L207.50 110.73 L208.24 110.19 L208.99 109.66 L209.75 109.12 L210.50 108.59 L211.26 108.07 L212.02 107.54 L212.78 107.02 L213.55 106.50 L214.31 105.99 L215.08 105.48 L215.85 104.97 L216.63 104.46 L217.40 103.96 L218.18 103.46 L218.96 102.96 L219.74 102.47 L220.53 101.98 L221.31 101.49 L222.10 101.00 L222.89 100.52 L223.69 100.04 L224.48 99.57 L225.28 99.10 L226.08 98.63 L226.88 98.16 L227.68 97.69 L228.48 97.23 L229.29 96.77 L230.10 96.32 L230.91 95.87 L231.72 95.42 L232.53 94.97 L233.35 94.53 L234.17 94.09 L234.99 93.65 L235.81 93.22 L236.63 92.79 L237.45 92.36 L238.28 91.93 L239.10 91.51 L239.93 91.09 L240.76 90.67 L241.60 90.26 L242.43 89.85 L243.26 89.44 L244.10 89.03 L244.94 88.63 L245.78 88.23 L246.62 87.83 L247.46 87.44 L248.31 87.05 L249.15 86.66 L250.00 86.28 L250.84 85.90 L251.69 85.52 L252.54 85.14 L253.40 84.77 L254.25 84.40 L255.10 84.03 L255.96 83.66 L256.82 83.30 L257.67 82.94 L258.53 82.59 L259.39 82.23 L260.25 81.88 L261.12 81.53 L261.98 81.19 L262.84 80.85 L263.71 80.51 L264.57 80.17 L265.44 79.84 L266.31 79.51 L267.18 79.18 L268.05 78.85 L268.92 78.53 L269.79 78.21 L270.67 77.90 L271.54 77.58 L272.42 77.27 L273.29 76.97 L274.17 76.66 L275.05 76.36 L275.93 76.06 L276.81 75.77 L277.69 75.47 L278.57 75.18 L279.45 74.90 L280.34 74.61 L281.22 74.33 L282.11 74.06 L282.99 73.78 L283.88 73.51 L284.77 73.24 L285.66 72.98 L286.54 72.71 L287.43 72.45 L288.33 72.20 L289.22 71.95 L290.11 71.69 L291.00 71.45 L291.90 71.20 L292.79 70.96 L293.69 70.72 L294.58 70.49 L295.48 70.26 L296.38 70.03 L297.28 69.80 L298.18 69.58 L299.08 69.36 L299.98 69.15 L300.88 68.93 L301.78 68.72 L302.68 68.52 L303.58 68.31 L304.49 68.11 L305.39 67.92 L306.30 67.72 L307.20 67.53 L308.11 67.35 L309.02 67.16 L309.92 66.98 L310.83 66.80 L311.74 66.63 L312.65 66.46 L313.56 66.29 L314.47 66.12 L315.38 65.96 L316.29 65.80 L317.20 65.65 L318.11 65.50 L319.02 65.35 L319.94 65.20 L320.85 65.06 L321.76 64.92 L322.68 64.79 L323.59 64.66 L324.51 64.53 L325.42 64.40 L326.34 64.28 L327.26 64.16 L328.17 64.05 L329.09 63.94 L330.01 63.83 L330.93 63.72 L331.84 63.62 L332.76 63.52 L333.68 63.43 L334.60 63.34 L335.52 63.25 L336.44 63.16 L337.36 63.08 L338.28 63.00 L339.20 62.93 L340.12 62.86 L341.04 62.79 L341.97 62.72 L342.89 62.66 L343.81 62.60 L344.73 62.55 L345.66 62.49 L346.58 62.44 L347.50 62.40 L348.43 62.36 L349.35 62.32 L350.27 62.28 L351.20 62.24 L352.12 62.21 L353.04 62.19 L353.97 62.16 L354.89 62.14 L355.82 62.12 L356.74 62.11 L357.67 62.10 L358.59 62.09 L359.52 62.08 L360.44 62.08 L361.37 62.08 L362.30 62.08 L363.22 62.09 L364.15 62.09 L365.07 62.11 L366.00 62.12 L366.92 62.14 L367.85 62.16 L368.78 62.18 L369.70 62.21 L370.63 62.24 L371.56 62.27 L372.48 62.30 L373.41 62.34 L374.33 62.38 L375.26 62.42 L376.19 62.47 L377.11 62.52 L378.04 62.57 L378.96 62.62 L379.89 62.68 L380.82 62.74 L381.74 62.80 L382.67 62.87 L383.59 62.93 L384.52 63.00 L385.44 63.08 L386.37 63.15 L387.29 63.23 L388.22 63.31 L389.14 63.39 L390.07 63.48 L390.99 63.57 L391.92 63.66 L392.84 63.75 L393.77 63.85 L394.69 63.95 L395.61 64.05 L396.54 64.15 L397.46 64.26 L398.39 64.37 L399.31 64.48 L400.23 64.59 L401.15 64.71 L402.08 64.82 L403.00 64.94 L403.92 65.07 L404.84 65.19 L405.76 65.32 L406.68 65.45 L407.60 65.58 L408.52 65.72 L409.44 65.86 L410.36 66.00 L411.28 66.14 L412.20 66.28 L413.12 66.43 L414.04 66.58 L414.96 66.73 L415.88 66.88 L416.79 67.03 L417.71 67.19 L418.63 67.35 L419.54 67.51 L420.46 67.68 L421.37 67.84 L422.29 68.01 L423.20 68.18 L424.12 68.36 L425.03 68.53 L425.94 68.71 L426.86 68.89 L427.77 69.07 L428.68 69.25 L429.59 69.43 L430.50 69.62 L431.41 69.81 L432.32 70.00 L433.23 70.19 L434.14 70.39 L435.05 70.59 L435.96 70.78 L436.86 70.99 L437.77 71.19 L438.68 71.39 L439.58 71.60 L440.49 71.81 L441.39 72.02 L442.30 72.23 L443.20 72.44 L444.10 72.66 L445.00 72.88 L445.91 73.10 L446.81 73.32 L447.71 73.54 L448.61 73.77 L449.50 73.99 L450.40 74.22 L451.30 74.45 L452.20 74.68 L453.09 74.92 L453.99 75.15 L454.88 75.39 L455.78 75.63 L456.67 75.87 L457.56 76.11 L458.45 76.36 L459.35 76.60 L460.24 76.85 L461.13 77.10 L462.01 77.35 L462.90 77.60 L463.79 77.85 L464.68 78.11 L465.56 78.36 L466.45 78.62 L467.33 78.88 L468.21 79.14 L469.10 79.40 L469.98 79.67 L470.86 79.93 L471.74 80.20 L472.62 80.47 L473.50 80.73 L474.37 81.01 L475.25 81.28 L476.13 81.55 L477.00 81.83 L477.87 82.10 L478.75 82.38 L479.62 82.66 L480.49 82.94 L481.36 83.22 L482.23 83.51 L483.10 83.79 L483.96 84.08" fill="none" stroke="#00B0F6" stroke-width="3.6" stroke-linejoin="round" stroke-linecap="butt"/>
<path d="M87.50 161.00 L87.50 180.00 L87.68 180.03 L87.78 181.06 L87.87 182.10 L87.96 183.14 L88.05 184.18 L88.15 185.22 L88.24 186.26 L88.33 187.31 L88.42 188.35 L88.51 189.39 L88.60 190.43 L88.69 191.47 L88.78 192.51 L88.88 193.55 L88.97 194.59 L89.06 195.63 L89.14 196.68 L89.23 197.72 L89.32 198.76 L89.41 199.80 L89.50 200.84 L89.59 201.89 L89.68 202.93 L89.77 203.97 L89.86 205.02 L89.94 206.06 L90.03 207.10 L90.12 208.14 L90.21 209.19 L90.29 210.23 L90.38 211.27 L90.47 212.32 L90.56 213.36 L90.64 214.41 L90.73 215.45 L90.82 216.49 L90.90 217.54 L90.99 218.58 L91.08 219.63 L91.16 220.67 L91.25 221.71 L91.33 222.76 L91.42 223.80 L91.51 224.85 L91.59 225.89 L91.68 226.94 L91.76 227.98 L91.85 229.03 L91.93 230.07 L92.02 231.12 L92.11 232.16 L92.19 233.21 L92.28 234.25 L92.36 235.30 L92.45 236.34 L92.53 237.39 L92.62 238.43 L92.70 239.48 L92.79 240.53 L92.88 241.57 L92.96 242.62 L93.05 243.66 L93.13 244.71 L93.22 245.75 L93.30 246.80 L93.39 247.84 L93.47 248.89 L93.56 249.94 L93.65 250.98 L93.73 252.03 L93.82 253.07 L93.90 254.12 L93.99 255.17 L94.08 256.21 L94.16 257.26 L94.25 258.30 L94.34 259.35 L94.42 260.39 L94.51 261.44 L94.60 262.49 L94.68 263.53 L94.77 264.58 L94.86 265.62 L94.94 266.67 L95.03 267.72 L95.12 268.76 L95.21 269.81 L95.29 270.85 L95.38 271.90 L95.47 272.94 L95.56 273.99 L95.65 275.04 L95.74 276.08 L95.82 277.13 L95.91 278.17 L96.00 279.22 L96.09 280.26 L96.18 281.31 L96.27 282.35 L96.36 283.40 L96.45 284.44 L96.54 285.49 L96.63 286.53 L96.72 287.58 L96.81 288.62 L96.91 289.67 L97.00 290.71 L97.09 291.76 L97.18 292.80 L97.27 293.85 L97.37 294.89 L97.46 295.94 L97.55 296.98 L97.65 298.03 L97.74 299.07 L97.84 300.11 L97.93 301.16 L98.02 302.20 L98.12 303.25 L98.21 304.29 L98.31 305.33 L98.41 306.38 L98.50 307.42 L98.60 308.46 L98.70 309.51 L98.79 310.55 L98.89 311.59 L98.99 312.64 L99.09 313.68 L99.19 314.72 L99.29 315.76 L99.39 316.81 L99.49 317.85 L99.59 318.89 L99.69 319.93 L99.79 320.97 L99.89 322.02 L99.99 323.06 L100.09 324.10 L100.20 325.14 L100.30 326.18 L100.40 327.22 L100.51 328.26 L100.61 329.30 L100.72 330.34 L100.82 331.39 L100.93 332.43 L101.03 333.47 L101.14 334.51 L101.25 335.55 L101.36 336.59 L101.46 337.62 L101.57 338.66 L101.68 339.70 L101.79 340.74 L101.90 341.78 L102.01 342.82 L102.12 343.86 L102.23 344.90 L102.35 345.93 L102.46 346.97 L102.58 348.01 L102.69 349.05 L102.81 350.08 L102.92 351.12 L103.04 352.16 L103.16 353.19 L103.28 354.23 L103.41 355.27 L103.53 356.30 L103.66 357.34 L103.78 358.37 L103.91 359.41 L104.04 360.44 L104.18 361.48 L104.31 362.51 L104.45 363.55 L104.58 364.58 L104.73 365.62 L104.87 366.65 L105.01 367.68 L105.16 368.72 L105.31 369.75 L105.46 370.78 L105.62 371.82 L105.78 372.85 L105.94 373.88 L106.10 374.91 L106.27 375.94 L106.44 376.98 L106.61 378.01 L106.78 379.04 L106.96 380.07 L107.14 381.10 L107.33 382.13 L107.52 383.16 L107.71 384.19 L107.90 385.22 L108.10 386.25 L108.31 387.27 L108.51 388.30 L108.72 389.33 L108.94 390.36 L109.16 391.39 L109.38 392.41 L109.61 393.44 L109.84 394.47 L110.07 395.49 L110.31 396.52 L110.55 397.55 L110.80 398.57 L111.06 399.60 L111.31 400.62 L111.58 401.65 L111.84 402.67 L112.12 403.69 L112.39 404.72 L112.68 405.74 L112.96 406.76 L113.26 407.79 L113.55 408.81 L113.86 409.83 L114.16 410.85 L114.48 411.87 L114.80 412.89 L115.12 413.92 L115.45 414.94 L115.79 415.96 L116.13 416.98 L116.48 417.99 L116.84 419.01 L117.21 420.02 L117.58 421.03 L117.97 422.03 L118.38 423.01 L118.79 423.99 L119.23 424.95 L119.68 425.90 L120.16 426.83 L120.65 427.75 L121.17 428.64 L121.72 429.51 L122.29 430.35 L122.89 431.17 L123.52 431.96 L124.17 432.73 L124.87 433.46 L125.59 434.15 L126.35 434.82 L127.15 435.44 L127.98 436.03 L128.85 436.57 L129.74 437.07 L130.66 437.52 L131.60 437.91 L132.56 438.25 L133.53 438.53 L134.51 438.75 L135.51 438.91 L136.51 439.03 L137.53 439.09 L138.55 439.11 L139.58 439.09 L140.61 439.04 L141.66 438.95 L142.70 438.84 L143.75 438.70 L144.80 438.55 L145.85 438.37 L146.90 438.19 L147.95 438.00 L149.00 437.81 L150.04 437.61 L151.09 437.40 L152.13 437.20 L153.17 436.98 L154.21 436.77 L155.25 436.55 L156.28 436.33 L157.32 436.10 L158.35 435.87 L159.38 435.64 L160.42 435.41 L161.44 435.17 L162.47 434.93 L163.50 434.68 L164.52 434.44 L165.55 434.19 L166.57 433.93 L167.59 433.68 L168.62 433.42 L169.64 433.16 L170.65 432.90 L171.67 432.64 L172.69 432.37 L173.71 432.11 L174.72 431.84 L175.73 431.57 L176.75 431.29 L177.76 431.02 L178.77 430.74 L179.78 430.47 L180.80 430.19 L181.81 429.91 L182.81 429.63 L183.82 429.35 L184.83 429.07 L185.84 428.79 L186.85 428.50 L187.85 428.22 L188.86 427.94 L189.87 427.65 L190.87 427.37 L191.88 427.08 L192.89 426.80 L193.89 426.51 L194.90 426.23 L195.90 425.95 L196.91 425.66 L197.91 425.38 L198.92 425.10 L199.92 424.81 L200.93 424.53 L201.93 424.25 L202.94 423.97 L203.94 423.70 L204.95 423.42 L205.96 423.14 L206.96 422.87 L207.97 422.59 L208.97 422.32 L209.98 422.05 L210.99 421.79 L212.00 421.52 L213.01 421.26 L214.02 420.99 L215.03 420.73 L216.04 420.48 L217.05 420.22 L218.06 419.97 L219.07 419.72 L220.09 419.47 L221.10 419.22 L222.11 418.98 L223.13 418.74 L224.15 418.51 L225.16 418.27 L226.18 418.04 L227.20 417.82 L228.22 417.59 L229.24 417.37 L230.27 417.16 L231.29 416.94 L232.31 416.73 L233.34 416.52 L234.36 416.32 L235.39 416.12 L236.42 415.92 L237.45 415.73 L238.48 415.54 L239.51 415.35 L240.54 415.17 L241.57 414.99 L242.60 414.81 L243.64 414.64 L244.67 414.46 L245.70 414.30 L246.74 414.13 L247.78 413.97 L248.81 413.81 L249.85 413.66 L250.89 413.51 L251.93 413.36 L252.97 413.21 L254.01 413.07 L255.05 412.93 L256.09 412.80 L257.13 412.67 L258.17 412.54 L259.21 412.41 L260.26 412.29 L261.30 412.17 L262.35 412.06 L263.39 411.94 L264.44 411.83 L265.48 411.73 L266.53 411.63 L267.57 411.53 L268.62 411.43 L269.67 411.34 L270.72 411.25 L271.76 411.16 L272.81 411.08 L273.86 411.00 L274.91 410.92 L275.96 410.85 L277.01 410.78 L278.06 410.71 L279.11 410.64 L280.16 410.58 L281.21 410.53 L282.26 410.47 L283.31 410.42 L284.36 410.37 L285.41 410.33 L286.46 410.28 L287.51 410.25 L288.56 410.21 L289.62 410.18 L290.67 410.15 L291.72 410.12 L292.77 410.10 L293.82 410.08 L294.87 410.06 L295.93 410.05 L296.98 410.04 L298.03 410.03 L299.08 410.03 L300.13 410.03 L301.18 410.03 L302.23 410.04 L303.29 410.05 L304.34 410.06 L305.39 410.08 L306.44 410.09 L307.49 410.12 L308.54 410.14 L309.59 410.17 L310.64 410.20 L311.69 410.23 L312.74 410.27 L313.79 410.31 L314.84 410.35 L315.89 410.40 L316.94 410.45 L317.98 410.50 L319.03 410.56 L320.08 410.62 L321.13 410.68 L322.17 410.75 L323.22 410.82 L324.27 410.89 L325.31 410.96 L326.36 411.04 L327.40 411.12 L328.45 411.21 L329.49 411.29 L330.53 411.39 L331.58 411.48 L332.62 411.58 L333.66 411.67 L334.70 411.78 L335.74 411.88 L336.79 411.99 L337.83 412.10 L338.87 412.22 L339.90 412.34 L340.94 412.46 L341.98 412.58 L343.02 412.71 L344.06 412.83 L345.10 412.97 L346.13 413.10 L347.17 413.24 L348.20 413.38 L349.24 413.52 L350.27 413.67 L351.31 413.82 L352.34 413.97 L353.38 414.12 L354.41 414.28 L355.44 414.44 L356.47 414.60 L357.51 414.77 L358.54 414.93 L359.57 415.10 L360.60 415.28 L361.63 415.45 L362.66 415.63 L363.69 415.81 L364.72 415.99 L365.74 416.18 L366.77 416.37 L367.80 416.56 L368.83 416.75 L369.85 416.95 L370.88 417.15 L371.90 417.35 L372.93 417.55 L373.95 417.76 L374.98 417.96 L376.00 418.17 L377.03 418.39 L378.05 418.60 L379.07 418.82 L380.09 419.04 L381.11 419.26 L382.14 419.48 L383.16 419.71 L384.18 419.94 L385.20 420.17 L386.22 420.40 L387.24 420.64 L388.25 420.88 L389.27 421.12 L390.29 421.36 L391.31 421.60 L392.32 421.85 L393.34 422.10 L394.36 422.35 L395.37 422.60 L396.39 422.86 L397.40 423.11 L398.42 423.37 L399.43 423.63 L400.44 423.89 L401.46 424.16 L402.47 424.43 L403.48 424.69 L404.49 424.97 L405.50 425.24 L406.51 425.51 L407.52 425.79 L408.53 426.07 L409.54 426.35 L410.55 426.63 L411.56 426.91 L412.57 427.20 L413.58 427.49 L414.58 427.77 L415.59 428.07 L416.60 428.36 L417.60 428.65 L418.61 428.95 L419.61 429.25 L420.62 429.55 L421.62 429.85 L422.63 430.15 L423.63 430.45 L424.63 430.76 L425.64 431.07 L426.64 431.38 L427.64 431.69 L428.64 432.00 L429.64 432.32 L430.64 432.63 L431.64 432.95 L432.64 433.27 L433.64 433.59 L434.64 433.91 L435.64 434.23 L436.64 434.56 L437.63 434.88 L438.63 435.21 L439.63 435.54 L440.62 435.87 L441.62 436.20 L442.61 436.53 L443.61 436.86 L444.60 437.20 L445.60 437.54 L446.59 437.87 L447.58 438.21 L448.58 438.55 L449.57 438.90 L450.56 439.24 L451.55 439.58 L452.54 439.93 L453.53 440.27 L454.53 440.62 L455.52 440.97 L456.50 441.32 L457.49 441.67 L458.48 442.02 L459.47 442.38 L460.46 442.73 L461.45 443.09 L462.43 443.44 L463.42 443.80 L464.41 444.16 L465.39 444.52 L466.38 444.88 L467.36 445.24 L468.35 445.60 L469.33 445.96 L470.31 446.33 L471.30 446.69 L472.28 447.06 L473.26 447.42 L474.24 447.79 L475.22 448.16 L476.21 448.53 L477.19 448.90 L478.17 449.27 L479.15 449.64 L480.13 450.01 L481.11 450.38 L482.08 450.76 L483.06 451.13 L484.04 451.51" fill="none" stroke="#E76BF3" stroke-width="3.6" stroke-linejoin="round" stroke-linecap="butt"/>
<rect x="66.9" y="35.0" width="1.3" height="593.1" fill="#111"/>
<rect x="66.9" y="626.7" width="437.1" height="1.2" fill="#111"/>
<rect x="67.5" y="623.05" width="5.5" height="1.3" fill="#333"/>
<rect x="67.5" y="605.75" width="13.5" height="1.3" fill="#333"/>
<rect x="67.5" y="491.96" width="5.5" height="1.3" fill="#333"/>
<rect x="67.5" y="425.40" width="5.5" height="1.3" fill="#333"/>
<rect x="67.5" y="378.17" width="5.5" height="1.3" fill="#333"/>
<rect x="67.5" y="341.54" width="9.0" height="1.3" fill="#333"/>
<rect x="67.5" y="311.61" width="5.5" height="1.3" fill="#333"/>
<rect x="67.5" y="286.30" width="5.5" height="1.3" fill="#333"/>
<rect x="67.5" y="264.38" width="5.5" height="1.3" fill="#333"/>
<rect x="67.5" y="245.05" width="5.5" height="1.3" fill="#333"/>
<rect x="67.5" y="227.75" width="13.5" height="1.3" fill="#333"/>
<rect x="67.5" y="113.96" width="5.5" height="1.3" fill="#333"/>
<rect x="67.5" y="47.40" width="5.5" height="1.3" fill="#333"/>
<text x="56.7" y="614.00" text-anchor="end" class="ax">1</text>
<text x="56.7" y="433.65" text-anchor="end" class="ax">3</text>
<text x="56.7" y="236.00" text-anchor="end" class="ax">10</text>
<text x="56.7" y="55.65" text-anchor="end" class="ax">30</text>
<text x="87.50" y="652.8" text-anchor="middle" class="ax">0</text>
<text x="167.20" y="652.8" text-anchor="middle" class="ax">10</text>
<text x="245.70" y="652.8" text-anchor="middle" class="ax">20</text>
<text x="325.40" y="652.8" text-anchor="middle" class="ax">30</text>
<text x="405.10" y="652.8" text-anchor="middle" class="ax">40</text>
<text x="484.30" y="652.8" text-anchor="middle" class="ax">50</text>
<text x="285.20" y="678.00" text-anchor="middle" class="at" style="letter-spacing:0.050px">Time (months)</text>
<text transform="translate(30.10,331.10) rotate(-90)" x="0" y="0" text-anchor="middle" class="at" style="letter-spacing:0.283px">Number of infected individuals</text>
<text x="-66.50" y="19.7" class="ti" style="letter-spacing:0.000px">Infected</text>
<text x="41.20" y="19.7" class="ti" style="letter-spacing:0.313px">compartments</text>
<text x="233.30" y="19.7" class="ti" style="letter-spacing:1.220px">under</text>
<text x="317.10" y="19.7" class="ti" style="letter-spacing:0.467px">optimal</text>
<text x="420.10" y="19.7" class="ti" style="letter-spacing:0.800px">control</text>
<text x="522.00" y="19.7" class="ti" style="letter-spacing:0.120px">(u1</text>
<text x="571.00" y="19.7" class="ti" style="letter-spacing:0.000px">&amp;</text>
<text x="598.20" y="19.7" class="ti" style="letter-spacing:1.280px">u3)</text>
<text x="536.20" y="268.20" class="lt" style="letter-spacing:0.369px">Infected group</text>
<rect x="539" y="292.20" width="21" height="3.6" fill="#F8766D"/>
<text x="573.80" y="301.00" class="ll" style="letter-spacing:-0.114px">AIDS (A)</text>
<rect x="539" y="319.03" width="21" height="3.6" fill="#A3A500"/>
<text x="574.00" y="328.40" class="ll" style="letter-spacing:0.015px">Diagnosed (Ib)</text>
<rect x="539" y="345.86" width="21" height="3.6" fill="#00BF7D"/>
<text x="574.00" y="354.90" class="ll" style="letter-spacing:0.267px">Resistant (R)</text>
<rect x="539" y="372.69" width="21" height="3.6" fill="#00B0F6"/>
<text x="575.40" y="381.50" class="ll" style="letter-spacing:0.060px">Treated (T)</text>
<rect x="539" y="399.52" width="21" height="3.6" fill="#E76BF3"/>
<text x="573.60" y="408.30" class="ll" style="letter-spacing:0.036px">Unaware (Ia)</text>
</svg>
</body></html>
